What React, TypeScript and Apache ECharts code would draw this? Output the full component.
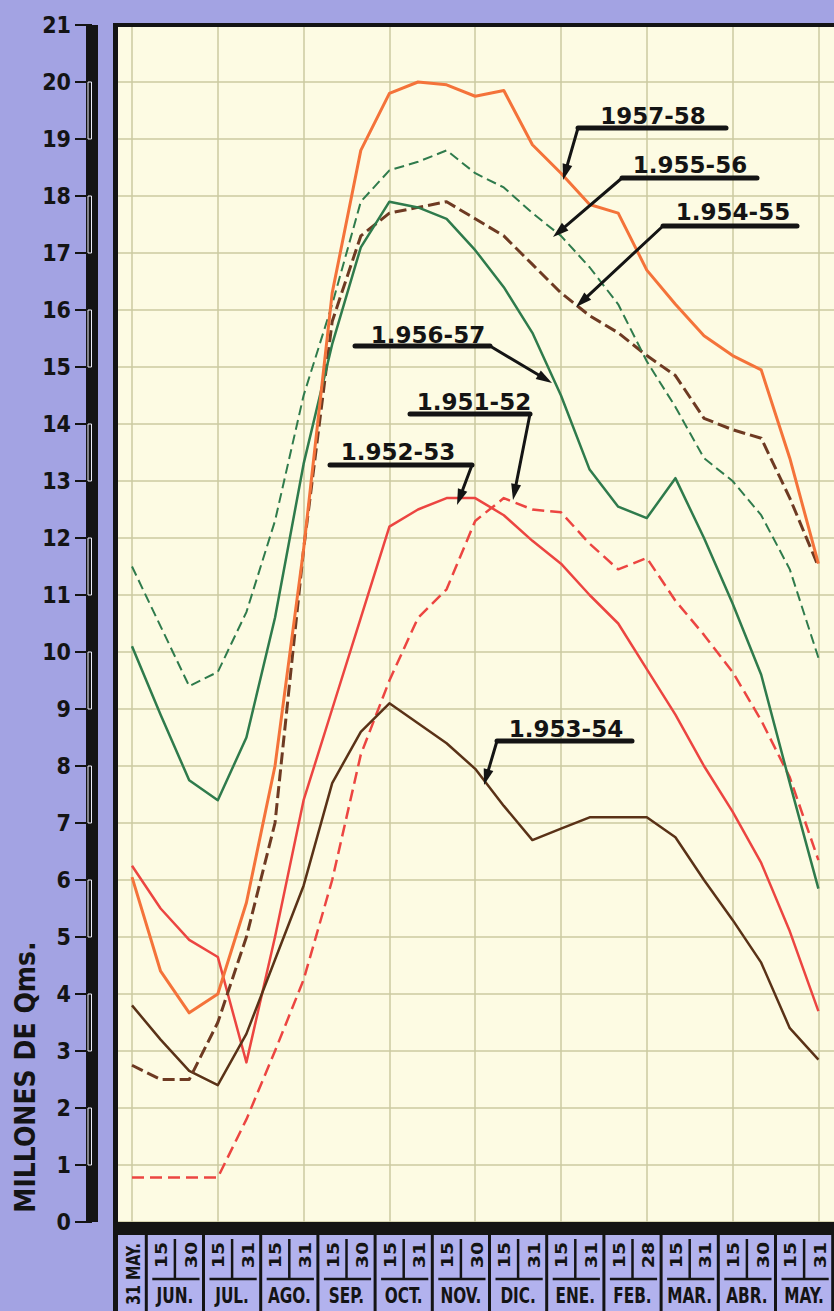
import React, { useEffect, useRef } from "react";
import * as echarts from "echarts";

// ---------- data ----------
const MONTHS = ["JUN.", "JUL.", "AGO.", "SEP.", "OCT.", "NOV.", "DIC.", "ENE.", "FEB.", "MAR.", "ABR.", "MAY."];
const MID_DAYS = ["15", "15", "15", "15", "15", "15", "15", "15", "15", "15", "15", "15"];
const END_DAYS = ["30", "31", "31", "30", "31", "30", "31", "31", "28", "31", "30", "31"];
const START_LABEL = "31 MAY.";
const CATEGORIES = [START_LABEL, ...MONTHS.flatMap((m, i) => [`${MID_DAYS[i]} ${m}`, `${END_DAYS[i]} ${m}`])];

const Y_MIN = 0;
const Y_MAX = 21;
const Y_STEP = 1;
const Y_TITLE = "MILLONES DE Qms.";

const S_1951_52 = [0.78, 0.78, 0.78, 0.78, 1.8, 3.0, 4.25, 6.0, 8.2, 9.5, 10.6, 11.1, 12.3, 12.7, 12.5, 12.45, 11.9, 11.45, 11.65, 10.9, 10.3, 9.65, 8.8, 7.8, 6.35];
const S_1952_53 = [6.25, 5.5, 4.95, 4.65, 2.8, 5.0, 7.4, 9.0, 10.6, 12.2, 12.5, 12.7, 12.7, 12.4, 11.95, 11.55, 11.0, 10.5, 9.7, 8.9, 8.0, 7.2, 6.3, 5.1, 3.7];
const S_1953_54 = [3.8, 3.2, 2.65, 2.4, 3.3, 4.6, 5.9, 7.7, 8.6, 9.1, 8.75, 8.4, 7.95, 7.3, 6.7, 6.9, 7.1, 7.1, 7.1, 6.75, 6.0, 5.3, 4.55, 3.4, 2.85];
const S_1954_55 = [2.75, 2.5, 2.5, 3.5, 5.0, 7.0, 11.8, 15.8, 17.3, 17.7, 17.8, 17.9, 17.6, 17.3, 16.8, 16.3, 15.9, 15.6, 15.2, 14.85, 14.1, 13.9, 13.75, 12.7, 11.5];
const S_1955_56 = [11.5, 10.45, 9.4, 9.65, 10.7, 12.3, 14.5, 16.1, 17.9, 18.45, 18.6, 18.8, 18.4, 18.15, 17.7, 17.3, 16.75, 16.1, 15.1, 14.3, 13.4, 13.0, 12.4, 11.45, 9.9];
const S_1956_57 = [10.1, 8.9, 7.75, 7.4, 8.5, 10.6, 13.3, 15.4, 17.1, 17.9, 17.8, 17.6, 17.05, 16.4, 15.6, 14.5, 13.2, 12.55, 12.35, 13.05, 12.0, 10.85, 9.6, 7.7, 5.85];
const S_1957_58 = [6.05, 4.4, 3.67, 4.0, 5.6, 8.0, 11.8, 16.3, 18.8, 19.8, 20.0, 19.95, 19.75, 19.85, 18.9, 18.4, 17.85, 17.7, 16.7, 16.1, 15.55, 15.2, 14.95, 13.4, 11.55];

const NAMES = ["1.951-52", "1.952-53", "1.953-54", "1.954-55", "1.955-56", "1.956-57", "1957-58"];

// ---------- styles ----------
const BG = "#a3a3e3";
const CELL_BG = "#b2b2ee";
const CREAM = "#fdfbe3";
const GRID_LINE = "#cbcaa0";
const INK = "#141414";
const RED = "#ec4541";
const ORANGE = "#f4733a";
const GREEN = "#2f7b4c";
const BROWN_D = "#6e3a22";
const BROWN = "#5a3217";
const FONT_C = "'DejaVu Sans Condensed', 'DejaVu Sans', sans-serif";
const FONT_B = "'DejaVu Sans', sans-serif";

const LINE_STYLES = [
  { color: RED, width: 2.5, type: [12, 6] },
  { color: RED, width: 2.5, type: "solid" },
  { color: BROWN, width: 2.5, type: "solid" },
  { color: BROWN_D, width: 3, type: [12, 5] },
  { color: GREEN, width: 2, type: [10, 5] },
  { color: GREEN, width: 2.5, type: "solid" },
  { color: ORANGE, width: 3, type: "solid" },
];
const SERIES_DATA = [S_1951_52, S_1952_53, S_1953_54, S_1954_55, S_1955_56, S_1956_57, S_1957_58];

// annotation layout (pixels): text centre, underline, arrow start -> tip
const ANNOTATIONS = [
  { name: "1957-58", tx: 653, ty: 116, u1: 578, u2: 726, uy: 128, sx: 578, sy: 128, ex: 563, ey: 180 },
  { name: "1.955-56", tx: 690, ty: 165, u1: 622, u2: 757, uy: 178, sx: 622, sy: 178, ex: 553, ey: 237 },
  { name: "1.954-55", tx: 733, ty: 212, u1: 663, u2: 797, uy: 226, sx: 663, sy: 226, ex: 576, ey: 307 },
  { name: "1.956-57", tx: 428, ty: 335, u1: 355, u2: 490, uy: 346, sx: 490, sy: 346, ex: 552, ey: 383 },
  { name: "1.951-52", tx: 474, ty: 402, u1: 410, u2: 530, uy: 414, sx: 530, sy: 414, ex: 513, ey: 500 },
  { name: "1.952-53", tx: 398, ty: 452, u1: 330, u2: 472, uy: 465, sx: 472, sy: 465, ex: 457, ey: 505 },
  { name: "1.953-54", tx: 566, ty: 729, u1: 497, u2: 632, uy: 741, sx: 497, sy: 741, ex: 484, ey: 785 },
];

function arrow(sx: number, sy: number, ex: number, ey: number) {
  const dx = ex - sx, dy = ey - sy;
  const len = Math.sqrt(dx * dx + dy * dy);
  const ux = dx / len, uy = dy / len;
  const L = 16, W = 5;
  const bx = ex - ux * L, by = ey - uy * L;
  const px = -uy, py = ux;
  return [
    { type: "line", z: 60, shape: { x1: sx, y1: sy, x2: bx, y2: by }, style: { stroke: INK, lineWidth: 3, lineCap: "round" } },
    {
      type: "polygon", z: 60,
      shape: { points: [[ex, ey], [bx + px * W, by + py * W], [bx - px * W, by - py * W]] },
      style: { fill: INK },
    },
  ];
}

function textEl(text: string, x: number, y: number, font: string, size: number, extra: any = {}) {
  return {
    type: "text", z: 60, x, y, ...extra,
    style: {
      text, fill: INK, fontFamily: font, fontSize: size, fontWeight: "bold",
      align: "center", verticalAlign: "middle", textAlign: "center", textVerticalAlign: "middle",
    },
  };
}

export default function App() {
  const ref = useRef<HTMLDivElement>(null);

  useEffect(() => {
    document.body.style.margin = "0";
    const chart = echarts.init(ref.current!, undefined, { renderer: "svg" });
    chart.setOption({
      animation: false,
      backgroundColor: BG,
      grid: [
        { left: 116, right: 0, top: 25, bottom: 89, show: true, backgroundColor: CREAM, borderWidth: 0 },
        { left: 132, right: 15.6, top: 25, bottom: 89, show: false },
        { left: 92, width: 10, top: 25, bottom: 89, show: false },
      ],
      xAxis: [
        { gridIndex: 0, type: "value", show: false, min: 0, max: 1 },
        {
          gridIndex: 1, type: "category", data: CATEGORIES, boundaryGap: false,
          axisLine: { show: false }, axisTick: { show: false }, axisLabel: { show: false },
          splitLine: { show: true, lineStyle: { color: GRID_LINE, width: 1.5 } },
        },
        { gridIndex: 2, type: "value", show: false, min: 0, max: 1 },
      ],
      yAxis: [
        {
          gridIndex: 0, type: "value", min: Y_MIN, max: Y_MAX, interval: Y_STEP,
          axisLine: { show: false }, axisTick: { show: false }, axisLabel: { show: false },
          splitLine: { show: true, lineStyle: { color: GRID_LINE, width: 1.5 } },
        },
        { gridIndex: 1, type: "value", min: Y_MIN, max: Y_MAX, interval: Y_STEP, show: false },
        {
          gridIndex: 2, type: "value", min: Y_MIN, max: Y_MAX, interval: Y_STEP, position: "left",
          axisLine: { show: true, lineStyle: { color: INK, width: 12, cap: "butt" } },
          axisTick: { show: true, length: 17, lineStyle: { color: INK, width: 2 } },
          axisLabel: { margin: 21, color: INK, fontFamily: FONT_C, fontWeight: "bold", fontSize: 23 },
          splitLine: { show: false },
        },
      ],
      series: SERIES_DATA.map((d, i) => ({
        name: NAMES[i], type: "line", xAxisIndex: 1, yAxisIndex: 1, data: d,
        symbol: "none", silent: true, z: 3 + i,
        lineStyle: { color: LINE_STYLES[i].color, width: LINE_STYLES[i].width, type: LINE_STYLES[i].type, join: "round" },
      })),
    });

    const px = (i: number) => (chart.convertToPixel({ gridIndex: 1 }, [i, 0]) as number[])[0];
    const py = (v: number) => chart.convertToPixel({ yAxisIndex: 0 }, v) as number;
    const step = px(1) - px(0);
    const yTop = py(Y_MAX);
    const yBot = py(Y_MIN);
    const H = 1311;
    const W = 834;
    const rowTop = yBot + 13;

    const g: any[] = [];
    // solid scale bar (flat ends) drawn over the axis line
    g.push({ type: "rect", z: 49, shape: { x: 86, y: yTop, width: 12, height: yBot - yTop }, style: { fill: INK } });
    // white decoration inside the scale bar
    for (let k = Y_MAX - 1; k >= 1; k -= 2) {
      g.push({ type: "rect", z: 50, shape: { x: 88, y: py(k), width: 3.5, height: py(k - 1) - py(k) }, style: { fill: "none", stroke: "#eeeefa", lineWidth: 1 } });
    }
    // frame
    g.push({ type: "line", z: 55, shape: { x1: 113, y1: yTop, x2: W, y2: yTop }, style: { stroke: INK, lineWidth: 4 } });
    g.push({ type: "rect", z: 55, shape: { x: 113, y: yBot, width: W - 113, height: 13 }, style: { fill: INK } });
    g.push({ type: "rect", z: 54, shape: { x: 118, y: rowTop, width: W - 118, height: H - rowTop }, style: { fill: CELL_BG } });
    g.push({ type: "line", z: 55, shape: { x1: 115.5, y1: yTop - 2, x2: 115.5, y2: H }, style: { stroke: INK, lineWidth: 5 } });

    // first cell: 31 MAY.
    const firstRight = px(0) + step / 2;
    g.push(textEl(START_LABEL, (118 + firstRight) / 2 + 1, (rowTop + H) / 2 + 1, FONT_C, 16, { rotation: Math.PI / 2, scaleY: 1.2 }));
    g.push({ type: "line", z: 56, shape: { x1: firstRight, y1: rowTop, x2: firstRight, y2: H }, style: { stroke: INK, lineWidth: 3 } });

    MONTHS.forEach((m, i) => {
      const a = 2 * i + 1, b = 2 * i + 2;
      const left = px(a) - step / 2;
      const right = px(b) + step / 2;
      const mid = (px(a) + px(b)) / 2;
      g.push({ type: "line", z: 56, shape: { x1: right, y1: rowTop, x2: right, y2: H }, style: { stroke: INK, lineWidth: 3 } });
      g.push(textEl(MID_DAYS[i], px(a) + 1, rowTop + 20, FONT_C, 21, { rotation: Math.PI / 2, scaleY: 0.72 }));
      g.push(textEl(END_DAYS[i], px(b) + 2, rowTop + 20, FONT_C, 21, { rotation: Math.PI / 2, scaleY: 0.72 }));
      g.push({ type: "line", z: 56, shape: { x1: mid, y1: rowTop + 4, x2: mid, y2: rowTop + 44 }, style: { stroke: INK, lineWidth: 2.5 } });
      g.push({ type: "line", z: 56, shape: { x1: left + 6, y1: rowTop + 44, x2: right - 4, y2: rowTop + 44 }, style: { stroke: INK, lineWidth: 2.5 } });
      g.push(textEl(m, mid, rowTop + 61, FONT_C, 17, { scaleY: 1.25 }));
    });

    // y axis title
    g.push(textEl(Y_TITLE, 25, 1077, FONT_C, 28, { rotation: Math.PI / 2 }));

    // annotations
    ANNOTATIONS.forEach((a) => {
      g.push(textEl(a.name, a.tx, a.ty, FONT_B, 23));
      g.push({ type: "line", z: 60, shape: { x1: a.u1, y1: a.uy, x2: a.u2, y2: a.uy }, style: { stroke: INK, lineWidth: 5, lineCap: "round" } });
      g.push(...arrow(a.sx, a.sy, a.ex, a.ey));
    });

    chart.setOption({ graphic: g });
    return () => chart.dispose();
  }, []);

  return <div ref={ref} style={{ position: "absolute", left: 0, top: 0, width: 834, height: 1311 }} />;
}
